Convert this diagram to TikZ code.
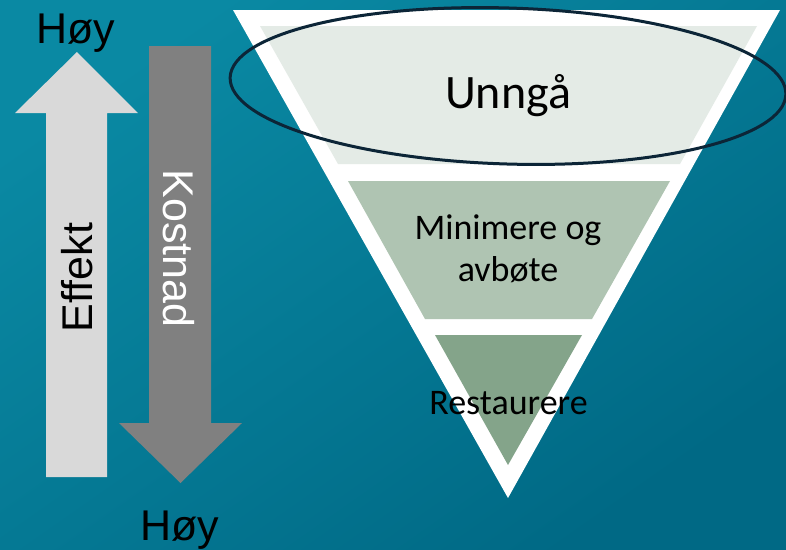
\documentclass[tikz,border=0pt]{standalone}
\usepackage{fontspec}
\setmainfont{Liberation Sans}
\newfontfamily\calfont{Carlito}
\begin{document}
\begin{tikzpicture}[x=1pt,y=-1pt,
  lbl/.style={inner sep=0pt, anchor=base, font=\fontsize{43}{50}\selectfont},
  tri/.style={inner sep=0pt, anchor=base, align=center, font=\calfont\fontsize{36}{42}\selectfont},
  band/.style={draw=none}]
\definecolor{bgA}{HTML}{0A89A3}
\definecolor{bgB}{HTML}{006985}
\definecolor{bandA}{HTML}{E4EBE6}
\definecolor{bandB}{HTML}{AFC4B2}
\definecolor{bandC}{HTML}{84A48A}
\definecolor{arrL}{HTML}{D9D9D9}
\definecolor{arrD}{HTML}{808080}
\definecolor{ell}{HTML}{0C2537}
\useasboundingbox (0,0) rectangle (786,549);
\shade[shading=axis, top color=bgA, bottom color=bgB, shading angle=35] (0,0) rectangle (786,549);
% arrows
\fill[arrL] (46,477) -- (46,113) -- (15,113) -- (77,52) -- (138,113) -- (107,113) -- (107,477) -- cycle;
\fill[arrD] (149,46) -- (211,46) -- (211,423) -- (242,423) -- (180.5,483) -- (119,423) -- (149,423) -- cycle;
\node[lbl] (hoyT) at (75.5,43) {Høy};
\node[lbl] (hoyB) at (179.5,540) {Høy};
\node[lbl, rotate=90] (eff) at (92,277.5) {Effekt};
\node[lbl, rotate=-90, text=white] (kost) at (163,248.5) {Kostnad};
% funnel
\fill[white] (233,10) -- (780,10) -- (508,498) -- cycle;
\fill[bandA] (260,26) -- (757,26) -- (680,164) -- (338,164) -- cycle;
\fill[bandB] (348,181) -- (670,181) -- (592,319) -- (425,319) -- cycle;
\fill[bandC] (435,335) -- (582,335) -- (508,465) -- cycle;
\node[tri, font=\calfont\fontsize{48}{56}\selectfont] (unnga) at (508,108) {Unngå};
\node[tri] (mini) at (508,281) {Minimere og\\avbøte};
\node[tri] (rest) at (508.5,414) {Restaurere};
\draw[ell, line width=3pt, rotate around={-1.75:(508,86)}] (508,86) ellipse [x radius=278pt, y radius=78pt];
\end{tikzpicture}
\end{document}
